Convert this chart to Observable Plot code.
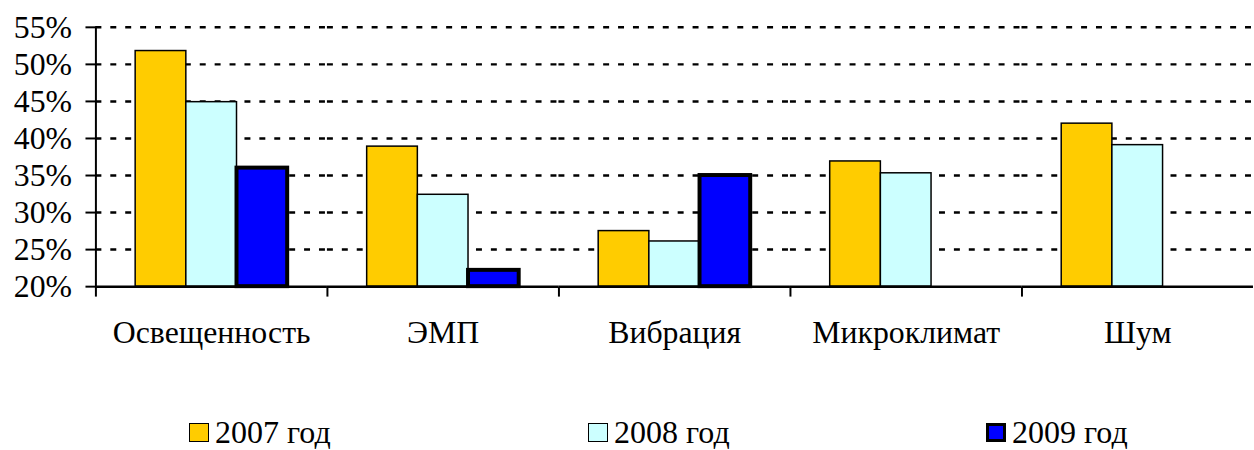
<!DOCTYPE html>
<html><head><meta charset="utf-8">
<script src="https://cdn.jsdelivr.net/npm/d3@7"></script>
<script src="https://cdn.jsdelivr.net/npm/@observablehq/plot@0.6"></script>
<style>
html,body{margin:0;padding:0;background:#fff;overflow:hidden;font-family:'Liberation Serif',serif;}
#wrap{width:1254px;height:450px;overflow:hidden;position:relative;background:#fff;}
#chart{height:370px;}
#legend{position:relative;height:80px;}
.item{position:absolute;top:44px;display:flex;align-items:center;font-family:'Liberation Serif',serif;font-size:32px;line-height:normal;color:#000;white-space:nowrap;}
.sw{box-sizing:border-box;width:20px;height:19px;border:1.5px solid #000;margin-right:6px;}
</style>
</head><body>
<div id="wrap"><div id="chart"></div><div id="legend"></div></div>
<script>
const categories = ["Освещенность", "ЭМП", "Вибрация", "Микроклимат", "Шум"];
const years = ["2007 год", "2008 год", "2009 год"];
const values2007 = [0.518, 0.389, 0.275, 0.369, 0.420];
const values2008 = [0.449, 0.324, 0.261, 0.353, 0.391];
const values2009 = [0.360, 0.222, 0.350, null, null];
const yTicks = [0.20, 0.25, 0.30, 0.35, 0.40, 0.45, 0.50, 0.55];
const colors = ["#FFCC00", "#CCFFFF", "#0000FF"];
const legendLeft = [189, 588, 986];

const rows = [];
[values2007, values2008, values2009].forEach((vals, j) => vals.forEach((v, i) => {
  if (v != null) rows.push({category: categories[i], year: years[j], value: v});
}));

const tickDown = {draw(ctx, size) { const l = Math.sqrt(size / Math.PI); ctx.moveTo(0, 0); ctx.lineTo(0, l); }};

const chart = Plot.plot({
  width: 1262, height: 370,
  marginLeft: 95, marginRight: 0, marginTop: 27, marginBottom: 82,
  style: {fontFamily: "'Liberation Serif', serif", fontSize: "32px", background: "white", color: "black", overflow: "visible"},
  fx: {domain: categories, paddingInner: 0, paddingOuter: 0, label: null},
  x: {domain: years, paddingInner: 0, paddingOuter: 0.757, axis: null},
  y: {domain: [yTicks[0], yTicks[yTicks.length - 1]], label: null},
  color: {domain: years, range: colors},
  marks: [
    Plot.ruleY(yTicks.slice(1), {stroke: "black", strokeWidth: 2.5, strokeDasharray: "6,9"}),
    Plot.barY(rows.filter(d => d.year !== years[2]), {fx: "category", x: "year", y1: yTicks[0], y2: "value", fill: "year", stroke: "black", strokeWidth: 1.5}),
    Plot.barY(rows.filter(d => d.year === years[2]), {fx: "category", x: "year", y1: yTicks[0], y2: "value", fill: "year", stroke: "black", strokeWidth: 4}),
    Plot.ruleY([yTicks[0]], {stroke: "black", strokeWidth: 2.5}),
    Plot.dot([0], {x: null, y: null, frameAnchor: "bottom-left", symbol: tickDown, r: 10, stroke: "black", strokeWidth: 2, fill: "none"}),
    Plot.frame({anchor: "left", facetAnchor: "left", stroke: "black", strokeWidth: 2}),
    Plot.axisY(yTicks, {anchor: "left", tickSize: 10, tickPadding: 14, tickFormat: d => Math.round(d * 100) + "%", strokeWidth: 2, fontSize: 32, label: null}),
    Plot.axisFx({anchor: "bottom", tickSize: 0, tickPadding: 34, fontSize: 32, label: null})
  ]
});
document.getElementById("chart").appendChild(chart);

const legend = document.getElementById("legend");
years.forEach((y, i) => {
  const item = document.createElement("div");
  item.className = "item";
  item.style.left = legendLeft[i] + "px";
  const sw = document.createElement("span");
  sw.className = "sw";
  sw.style.background = colors[i];
  if (i === 2) sw.style.borderWidth = "3.5px";
  item.appendChild(sw);
  item.appendChild(document.createTextNode(y));
  legend.appendChild(item);
});
</script>
</body></html>
